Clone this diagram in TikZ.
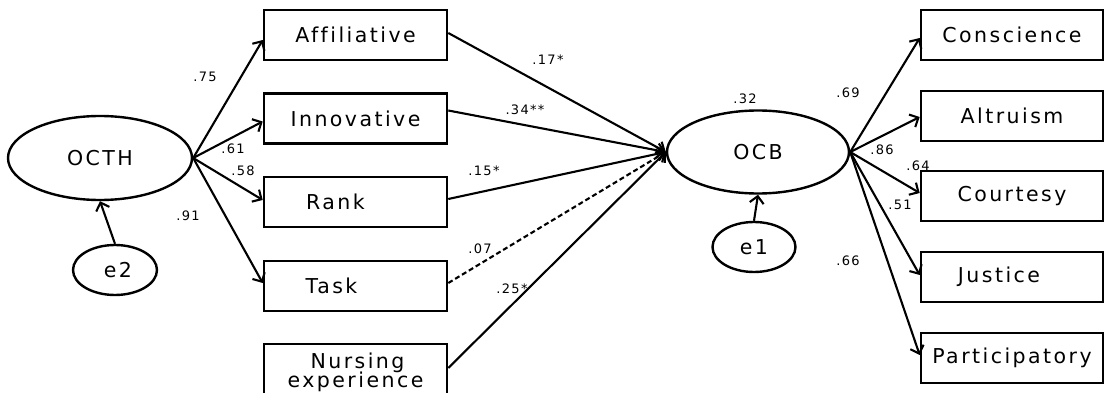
\documentclass[tikz,border=0pt]{standalone}
\usepackage{fontspec}
\setmainfont[Ligatures=NoCommon]{DejaVu Sans}
\usetikzlibrary{shapes.geometric,arrows.meta}
\tikzset{
  box/.style={draw,line width=2.6pt,minimum width=183pt,minimum height=50pt,inner sep=0pt,font=\fontsize{20.5}{22}\selectfont\addfontfeature{LetterSpace=12}},
  lat/.style={draw,ellipse,line width=2.4pt,inner sep=0pt,font=\fontsize{20.5}{22}\selectfont\addfontfeature{LetterSpace=12}},
  arr/.style={line width=2.1pt,-{Straight Barb[length=7pt,width=14pt,line width=2.1pt]}},
  coef/.style={inner sep=0pt,font=\fontsize{13}{14}\selectfont\addfontfeature{LetterSpace=10}}
}
\begin{document}
\begin{tikzpicture}[x=1pt,y=-1pt]
\useasboundingbox (0,0) rectangle (1104,393);
\clip (0,0) rectangle (1104,393);
% latent
\node[lat,minimum width=184pt,minimum height=84pt] (octh) at (100,158) {OCTH};
\node[lat,minimum width=84pt,minimum height=50pt] (e2) at (115,270) {\hspace{6pt}e2};
\node[lat,minimum width=182pt,minimum height=83pt] (ocb) at (758,152) {OCB};
\node[lat,minimum width=83pt,minimum height=50pt] (e1) at (754,247) {e1};
% left boxes
\node[box] (aff) at (355.5,35) {Affiliative};
\node[box] (inn) at (355.5,118.5) {Innovative};
\node[box] (rank) at (355.5,202) {\hspace{-40pt}Rank};
\node[box] (task) at (355.5,286) {\hspace{-48pt}Task};
\node[box,minimum height=56pt,align=center] (nurse) at (355.5,372) {\hspace{4pt}Nursing\\[-3pt]experience};
% right boxes
\node[box,minimum width=182pt] (cons) at (1012,35) {Conscience};
\node[box,minimum width=182pt] (alt) at (1012,116) {Altruism};
\node[box,minimum width=182pt] (cour) at (1012,196) {Courtesy};
\node[box,minimum width=182pt] (just) at (1012,277) {\hspace{-26pt}Justice};
\node[box,minimum width=182pt] (part) at (1012,358) {Participatory};
% OCTH loadings
\draw[arr] (octh.east) -- ([yshift=-5pt]aff.west);
\draw[arr] (octh.east) -- ([yshift=-3pt]inn.west);
\draw[arr] (octh.east) -- ([yshift=2pt]rank.west);
\draw[arr] (octh.east) -- ([yshift=3pt]task.west);
\draw[arr] (e2.north) -- (octh.south);
% paths to OCB
\draw[arr] ([yshift=2pt]aff.east) -- (ocb.west);
\draw[arr] ([yshift=8pt]inn.east) -- (ocb.west);
\draw[arr] ([yshift=3pt]rank.east) -- (ocb.west);
\draw[arr,dash pattern=on 5pt off 3pt] ([yshift=3pt]task.east) -- (ocb.west);
\draw[arr] ([yshift=4pt]nurse.east) -- (ocb.west);
\draw[arr] (e1.north) -- (ocb.south);
% OCB loadings
\draw[arr] (ocb.east) -- ([yshift=-3pt]cons.west);
\draw[arr] (ocb.east) -- ([yshift=-1pt]alt.west);
\draw[arr] (ocb.east) -- ([yshift=3pt]cour.west);
\draw[arr] (ocb.east) -- ([yshift=2pt]just.west);
\draw[arr] (ocb.east) -- ([yshift=3pt]part.west);
% coefficients
\node[coef] (c75) at (205,77) {.75};
\node[coef] (c61) at (233,149) {.61};
\node[coef] (c58) at (243,171) {.58};
\node[coef] (c91) at (188,216) {.91};
\node[coef] (c17) at (548,60) {.17*};
\node[coef] (c34) at (525,110) {.34**};
\node[coef] (c15) at (484,171) {.15*};
\node[coef] (c07) at (480,249) {.07};
\node[coef] (c25) at (512,289) {.25*};
\node[coef] (c32) at (745,99) {.32};
\node[coef] (c69) at (848,93) {.69};
\node[coef] (c86) at (882,150) {.86};
\node[coef] (c64) at (918,166) {.64};
\node[coef] (c51) at (900,205) {.51};
\node[coef] (c66) at (848,261) {.66};
\end{tikzpicture}
\end{document}
